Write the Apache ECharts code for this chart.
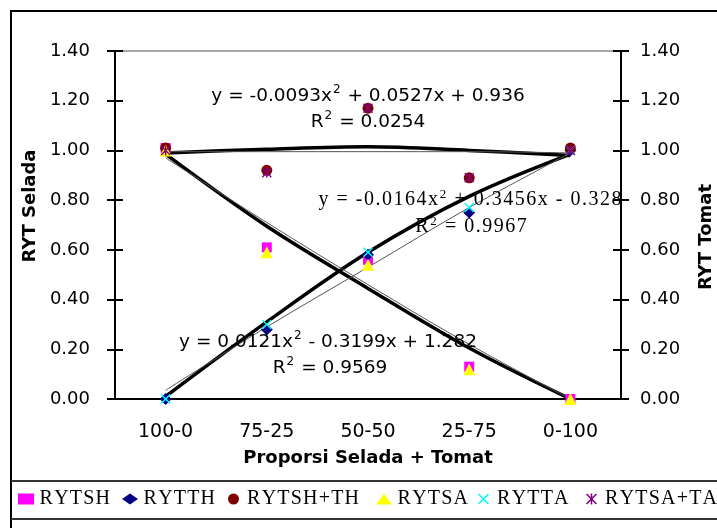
<!DOCTYPE html>
<html>
<head>
<meta charset="utf-8">
<script src="https://cdn.jsdelivr.net/npm/echarts@6/dist/echarts.min.js"></script>
<style>html,body{margin:0;padding:0;background:#fff;}#c{width:717px;height:528px;}</style>
</head>
<body>
<div id="c"></div>
<script>
// ---- data ----
const categories = ['100-0', '75-25', '50-50', '25-75', '0-100'];
const yMin = 0, yMax = 1.4, yStep = 0.2;

const rytsh   = [1.01, 0.61, 0.56, 0.13, 0.00];
const rytth   = [0.00, 0.28, 0.58, 0.75, 1.00];
const rytshth = [1.01, 0.92, 1.17, 0.89, 1.01];
const rytsa   = [1.00, 0.59, 0.54, 0.12, 0.00];
const rytta   = [0.00, 0.30, 0.59, 0.77, 1.00];
const rytsata = [1.00, 0.91, 1.17, 0.89, 1.00];

// trend lines
const trendSumThick    = [0.99, 1.005, 1.015, 1.00, 0.98];
const trendSumThin     = [0.995, 0.995, 0.995, 0.995, 0.99];
const trendTomatThick  = [0.01, 0.31, 0.59, 0.815, 0.985];
const trendTomatThin   = [0.035, 0.29, 0.53, 0.77, 0.99];
const trendSeladaThick = [0.985, 0.695, 0.445, 0.205, 0.00];
const trendSeladaThin  = [0.97, 0.71, 0.46, 0.22, 0.00];

const eq1 = ['y = -0.0093x', '2', ' + 0.0527x + 0.936'];
const r1  = ['R', '2', ' = 0.0254'];
const eq2 = ['y = -0.0164x', '2', ' + 0.3456x - 0.328'];
const r2  = ['R', '2', ' = 0.9967'];
const eq3 = ['y = 0.0121x', '2', ' - 0.3199x + 1.282'];
const r3  = ['R', '2', ' = 0.9569'];

// ---- helpers ----
const SANS = 'DejaVu Sans';
const SERIF = 'Liberation Serif';
function spaced(str, st) {
  return str.split('').map(c => '{' + st + '|' + c + '}').join('');
}
function sansRich(parts) {
  return '{a|' + parts[0] + '}{s|' + parts[1] + '}{a|' + parts[2] + '}';
}
function serifRich(parts) {
  return spaced(parts[0], 'a') + '{s|' + parts[1] + '}' + spaced(parts[2], 'a');
}
const sansStyles = {
  a: {fontFamily: SANS, fontSize: 18.5, fill: '#000', lineHeight: 22, verticalAlign: 'bottom'},
  s: {fontFamily: SANS, fontSize: 12, fill: '#000', lineHeight: 22, verticalAlign: 'top', padding: [0, 1, 0, 1]}
};
const serifStyles = {
  a: {fontFamily: SERIF, fontSize: 20, fill: '#000', lineHeight: 22, verticalAlign: 'bottom', padding: [0, 0.75]},
  s: {fontFamily: SERIF, fontSize: 13, fill: '#000', lineHeight: 22, verticalAlign: 'top', padding: [0, 1]}
};

const P_X = 'path://M0,1 L1,0 L5,4 L9,0 L10,1 L6,5 L10,9 L9,10 L5,6 L1,10 L0,9 L4,5 Z';
const P_AST = 'path://M0,1 L1,0 L5,4 L9,0 L10,1 L6,5 L10,9 L9,10 L5,6 L1,10 L0,9 L4,5 Z M4.3,0 L5.7,0 L5.7,10 L4.3,10 Z';

const markerSeries = [
  {name: 'RYTSH', data: rytsh, symbol: 'rect', size: 10, color: '#FF00FF'},
  {name: 'RYTTH', data: rytth, symbol: 'diamond', size: 12, color: '#000080'},
  {name: 'RYTSH+TH', data: rytshth, symbol: 'circle', size: 11, color: '#800000'},
  {name: 'RYTSA', data: rytsa, symbol: 'triangle', size: 12, color: '#FFFF00'},
  {name: 'RYTTA', data: rytta, symbol: P_X, size: 10, color: '#00FFFF'},
  {name: 'RYTSA+TA', data: rytsata, symbol: P_AST, size: 10, color: '#800080'}
];

const series = [];
function trend(data, thick) {
  series.push({
    type: 'line', data: data, symbol: 'none', silent: true, z: thick ? 3 : 4,
    smooth: 0.35,
    lineStyle: thick ? {color: '#000', width: 3.5} : {color: '#555', width: 1}
  });
}
trend(trendSumThick, true); trend(trendSumThin, false);
trend(trendTomatThick, true); trend(trendTomatThin, false);
trend(trendSeladaThick, true); trend(trendSeladaThin, false);

markerSeries.forEach(m => {
  series.push({
    type: 'scatter', name: m.name, data: m.data, symbol: m.symbol, symbolSize: m.size,
    itemStyle: {color: m.color, opacity: 1}, z: 6
  });
});

const legendX = [18, 122, 228, 376, 478, 586];
const legends = markerSeries.map((m, i) => ({
  data: [m.name], left: legendX[i], top: 489, itemWidth: 16, itemHeight: 11,
  selectedMode: false, padding: 0,
  formatter: n => spaced(n, 't'),
  textStyle: {rich: {t: {fontFamily: SERIF, fontSize: 20, color: '#000', padding: [0, 0.6]}}}
}));

const axisLineStyle = {color: '#000', width: 2};
const yLabel = {fontFamily: SANS, fontSize: 18, color: '#000', formatter: v => v.toFixed(2)};
const nameStyle = {fontFamily: SANS, fontWeight: 'bold', fontSize: 18, color: '#000'};

const option = {
  backgroundColor: '#fff',
  animation: false,
  grid: {left: 115, right: 96, top: 51, bottom: 129, show: true, borderColor: '#8c8c8c', borderWidth: 1.5,
         containLabel: false, outerBoundsMode: 'none'},
  legend: legends,
  xAxis: [
    {type: 'category', data: categories, position: 'bottom', boundaryGap: true,
     axisLine: {lineStyle: axisLineStyle}, axisTick: {length: 8, lineStyle: axisLineStyle},
     axisLabel: {fontFamily: SANS, fontSize: 19, color: '#000', margin: 24},
     splitLine: {show: false},
     name: 'Proporsi Selada + Tomat', nameLocation: 'middle', nameGap: 50, nameTextStyle: nameStyle},
    {type: 'category', data: categories, position: 'bottom', offset: 0, boundaryGap: true,
     axisLine: {show: false}, axisTick: {inside: true, length: 8, lineStyle: axisLineStyle},
     axisLabel: {show: false}, splitLine: {show: false}}
  ],
  yAxis: [
    {type: 'value', position: 'left', min: yMin, max: yMax, interval: yStep,
     axisLine: {show: true, lineStyle: axisLineStyle}, axisTick: {show: true, length: 8, lineStyle: axisLineStyle},
     axisLabel: Object.assign({margin: 25}, yLabel), splitLine: {show: false},
     name: 'RYT Selada', nameLocation: 'middle', nameGap: 74, nameRotate: 90,
     nameTextStyle: Object.assign({padding: [0, 0, 0, 38]}, nameStyle)},
    {type: 'value', position: 'right', min: yMin, max: yMax, interval: yStep,
     axisLine: {show: true, lineStyle: axisLineStyle}, axisTick: {show: true, length: 8, lineStyle: axisLineStyle},
     axisLabel: Object.assign({margin: 19}, yLabel), splitLine: {show: false},
     name: 'RYT Tomat', nameLocation: 'middle', nameGap: 76, nameRotate: 90,
     nameTextStyle: Object.assign({padding: [0, 24, 0, 0]}, nameStyle)},
    {type: 'value', position: 'left', min: yMin, max: yMax, interval: yStep, offset: 0,
     axisLine: {show: false}, axisTick: {show: true, inside: true, length: 8, lineStyle: axisLineStyle},
     axisLabel: {show: false}, splitLine: {show: false}},
    {type: 'value', position: 'right', min: yMin, max: yMax, interval: yStep, offset: 0,
     axisLine: {show: false}, axisTick: {show: true, inside: true, length: 8, lineStyle: axisLineStyle},
     axisLabel: {show: false}, splitLine: {show: false}}
  ],
  series: series,
  graphic: [
    {type: 'rect', shape: {x: 11, y: 11, width: 800, height: 700}, style: {fill: 'none', stroke: '#000', lineWidth: 2}, silent: true},
    {type: 'line', shape: {x1: 11, y1: 481, x2: 717, y2: 481}, style: {stroke: '#333', lineWidth: 2}, silent: true},
    {type: 'line', shape: {x1: 11, y1: 519, x2: 717, y2: 519}, style: {stroke: '#333', lineWidth: 2}, silent: true},
    {type: 'text', x: 368, y: 95, z: 10, style: {text: sansRich(eq1), rich: sansStyles, align: 'center', verticalAlign: 'middle'}},
    {type: 'text', x: 368, y: 121, z: 10, style: {text: sansRich(r1), rich: sansStyles, align: 'center', verticalAlign: 'middle'}},
    {type: 'text', x: 470, y: 199, z: 10, style: {text: serifRich(eq2), rich: serifStyles, align: 'center', verticalAlign: 'middle'}},
    {type: 'text', x: 471, y: 226, z: 10, style: {text: serifRich(r2), rich: serifStyles, align: 'center', verticalAlign: 'middle'}},
    {type: 'text', x: 328, y: 341, z: 10, style: {text: sansRich(eq3), rich: sansStyles, align: 'center', verticalAlign: 'middle'}},
    {type: 'text', x: 330, y: 367, z: 10, style: {text: sansRich(r3), rich: sansStyles, align: 'center', verticalAlign: 'middle'}}
  ]
};

const chart = echarts.init(document.getElementById('c'), null, {renderer: 'canvas'});
chart.setOption(option);
</script>
</body>
</html>
